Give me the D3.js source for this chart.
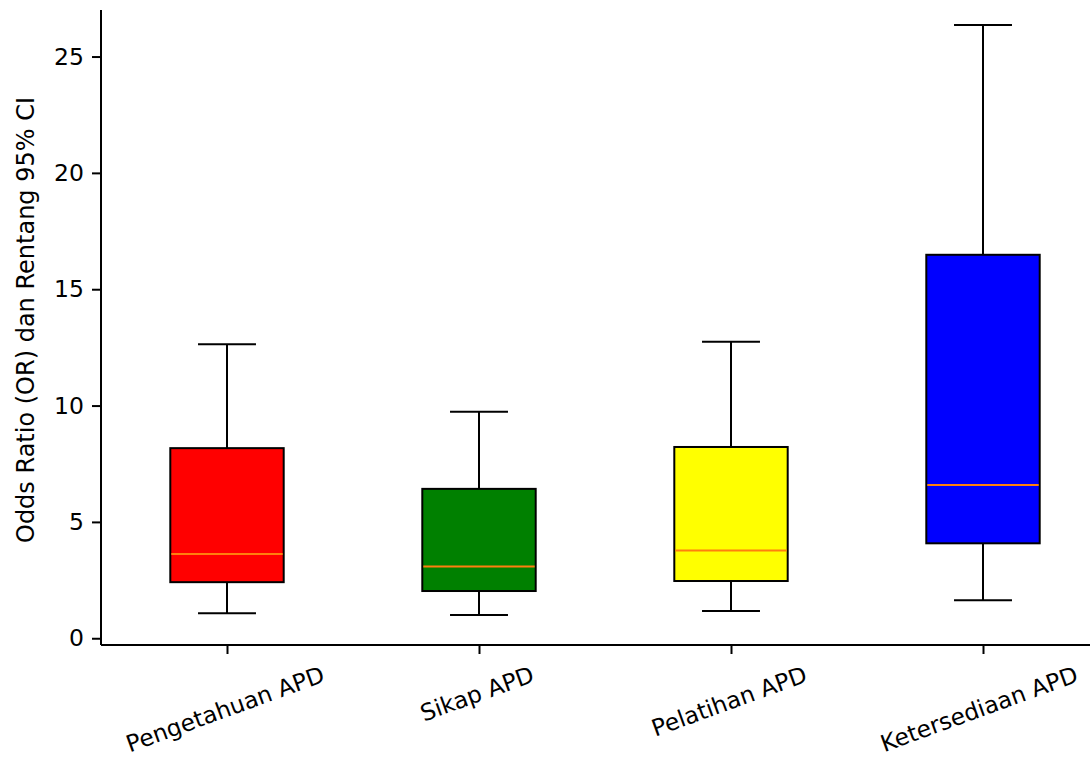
<!DOCTYPE html>
<html><head><meta charset="utf-8">
<script src="https://cdn.jsdelivr.net/npm/d3@7"></script>
<style>body{margin:0;background:#fff}svg{display:block}text{font-family:"DejaVu Sans",sans-serif;fill:#000}</style>
</head><body><svg id="c" width="1090" height="757"></svg>
<script>
const categories = ["Pengetahuan APD","Sikap APD","Pelatihan APD","Ketersediaan APD"];
const whiskerLow = [1.07, 1.00, 1.17, 1.63];
const q1 = [2.41, 2.03, 2.46, 4.08];
const median = [3.62, 3.08, 3.77, 6.59];
const q3 = [8.17, 6.42, 8.22, 16.48];
const whiskerHigh = [12.64, 9.73, 12.74, 26.35];
const colors = ["#ff0000","#008000","#ffff00","#0000ff"];
const yTicks = [0,5,10,15,20,25];
const yLabel = "Odds Ratio (OR) dan Rentang 95% CI";

const svg = d3.select("#c");
const x = d3.scaleLinear().domain([0.5,4.5]).range([101,1109]);
const y = d3.scaleLinear().domain([-0.29,27.0]).range([645,10]);
const step = x(2)-x(1);
const bw = step*0.45, cw = step*0.23;
const FS = 24, XFS = 23.3;

const g = svg.append("g");
categories.forEach((c,i)=>{
  const cx = x(i+1);
  g.append("line").attr("x1",cx).attr("x2",cx).attr("y1",y(whiskerLow[i])).attr("y2",y(q1[i])).attr("stroke","#000").attr("stroke-width",2);
  g.append("line").attr("x1",cx).attr("x2",cx).attr("y1",y(q3[i])).attr("y2",y(whiskerHigh[i])).attr("stroke","#000").attr("stroke-width",2);
  g.append("line").attr("x1",cx-cw/2).attr("x2",cx+cw/2).attr("y1",y(whiskerLow[i])).attr("y2",y(whiskerLow[i])).attr("stroke","#000").attr("stroke-width",2);
  g.append("line").attr("x1",cx-cw/2).attr("x2",cx+cw/2).attr("y1",y(whiskerHigh[i])).attr("y2",y(whiskerHigh[i])).attr("stroke","#000").attr("stroke-width",2);
  g.append("rect").attr("x",cx-bw/2).attr("width",bw).attr("y",y(q3[i])).attr("height",y(q1[i])-y(q3[i])).attr("fill",colors[i]).attr("stroke","#000").attr("stroke-width",2);
  g.append("line").attr("x1",cx-bw/2+1).attr("x2",cx+bw/2-1).attr("y1",y(median[i])).attr("y2",y(median[i])).attr("stroke","#ff7f0e").attr("stroke-width",2);
});

// y axis
const ya = svg.append("g").attr("transform","translate(101,0)")
  .call(d3.axisLeft(y).tickValues(yTicks).tickSize(9).tickPadding(8));
ya.select(".domain").attr("stroke-width",2).attr("d","M0,645V10");
ya.selectAll(".tick line").attr("stroke-width",2);
ya.selectAll("text").style("font-size","23.5px").style("font-family","DejaVu Sans");

// x axis
const xa = svg.append("g").attr("transform","translate(0,645)")
  .call(d3.axisBottom(x).tickValues([1,2,3,4]).tickFormat(d=>"").tickSize(9));
xa.select(".domain").attr("stroke-width",2).attr("d","M101,0H1090");
xa.selectAll(".tick line").attr("stroke-width",2);

const ang = 20*Math.PI/180;
categories.forEach((c,i)=>{
  const t = svg.append("text").text(c).style("font-size",XFS+"px")
    .attr("text-anchor","middle").attr("dominant-baseline","central");
  const w = t.node().getComputedTextLength();
  const h = XFS*1.1;
  const hr = w*Math.sin(ang)+h*Math.cos(ang);
  const cy = 661 + hr/2;
  const dx = i === categories.length-1 ? -4 : -2;
  t.attr("transform",`translate(${x(i+1)+dx},${cy}) rotate(-20)`);
});

svg.append("text").text(yLabel).style("font-size",FS+"px").attr("text-anchor","middle")
  .attr("dominant-baseline","central")
  .attr("transform","translate(26,320) rotate(-90)");
</script></body></html>
